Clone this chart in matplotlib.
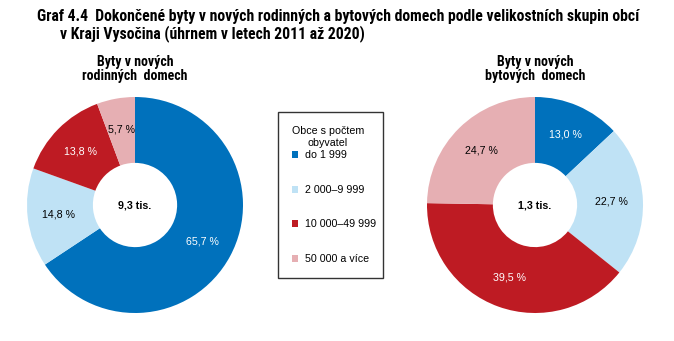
import matplotlib.pyplot as plt
from matplotlib.patches import Patch

categories = ["do 1 999", "2 000–9 999", "10 000–49 999", "50 000 a více"]
colors = ["#0071bc", "#bfe2f5", "#be1b23", "#e6afb3"]
text_colors = ["white", "black", "white", "black"]

rodinne = [65.7, 14.8, 13.8, 5.7]
bytove = [13.0, 22.7, 39.5, 24.7]
totals = ["9,3 tis.", "1,3 tis."]
subtitles = ["Byty v nových\nrodinných  domech", "Byty v nových\nbytových  domech"]

W, H = 674, 341
NARROW = ["Roboto Condensed", "DejaVu Sans"]
plt.rcParams["font.family"] = ["Liberation Sans", "DejaVu Sans"]

fig = plt.figure(figsize=(W / 100, H / 100), dpi=100)


def draw_donut(cx, cy, r, values, total, subtitle):
    ax = fig.add_axes([(cx - r) / W, (H - cy - r) / H, 2 * r / W, 2 * r / H])
    wedges, _, autotexts = ax.pie(
        values,
        colors=colors,
        startangle=90,
        counterclock=False,
        radius=1.0,
        wedgeprops=dict(width=0.61, linewidth=0),
        autopct=lambda p: f"{p:.1f}".replace(".", ",") + " %",
        pctdistance=0.71,
        textprops=dict(fontsize=7.7),
    )
    for t, c in zip(autotexts, text_colors):
        t.set_color(c)
    ax.text(0, 0, total, ha="center", va="center", fontsize=7.7, fontweight="bold")
    ax.set_xlim(-1, 1)
    ax.set_ylim(-1, 1)
    fig.text(cx / W, 1 - 69 / H, subtitle, ha="center", va="center",
             fontsize=10, fontweight="bold", family=NARROW, linespacing=1.05)


draw_donut(135, 205, 108, rodinne, totals[0], subtitles[0])
draw_donut(535, 205, 108, bytove, totals[1], subtitles[1])

fig.text(37 / W, 1 - 16 / H,
         "Graf 4.4  Dokončené byty v nových rodinných a bytových domech podle velikostních skupin obcí",
         ha="left", va="center", fontsize=11.3, fontweight="bold", family=NARROW)
fig.text(60 / W, 1 - 34 / H,
         "v Kraji Vysočina (úhrnem v letech 2011 až 2020)",
         ha="left", va="center", fontsize=11.3, fontweight="bold", family=NARROW)

handles = [Patch(facecolor=c, edgecolor="none") for c in colors]
leg = fig.legend(
    handles, categories,
    title="Obce s počtem\nobyvatel",
    loc="upper left",
    bbox_to_anchor=(278 / W, 1 - 112 / H, 105 / W, 0.0),
    mode="expand",
    fontsize=7.7,
    title_fontsize=7.7,
    handlelength=0.6,
    handleheight=0.6,
    handletextpad=0.6,
    labelspacing=2.3,
    borderpad=1.3,
    borderaxespad=0,
    fancybox=False,
    frameon=True,
)
leg.get_frame().set_edgecolor("black")
leg.get_frame().set_linewidth(1.0)
leg._legend_box.align = "left"
leg._legend_box.sep = 2
leg.get_title().set_ha("center")

fig.savefig("out.png", dpi=100)
